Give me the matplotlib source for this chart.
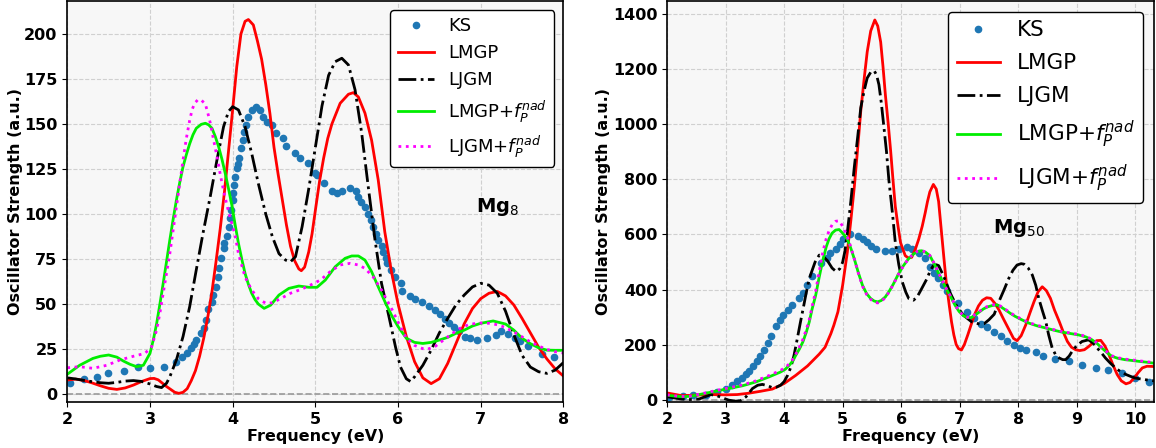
import matplotlib
matplotlib.use("Agg")
import matplotlib.pyplot as plt

# ---------------- Mg8 (left panel) ----------------
mg8_ks_x = [2.03, 2.2, 2.36, 2.49, 2.69, 2.85, 3.0, 3.17, 3.31, 3.39, 3.45, 3.5, 3.53, 3.56,
            3.62, 3.65, 3.68, 3.7, 3.75, 3.76, 3.8, 3.82, 3.84, 3.86, 3.89, 3.9, 3.93, 3.95,
            3.97, 3.98, 4.0, 4.01, 4.02, 4.03, 4.05, 4.07, 4.08, 4.1, 4.12, 4.14, 4.16, 4.19,
            4.23, 4.28, 4.33, 4.37, 4.42, 4.47, 4.52, 4.61, 4.65, 4.75, 4.81, 4.91, 5.0, 5.02,
            5.1, 5.2, 5.26, 5.32, 5.42, 5.49, 5.52, 5.55, 5.6, 5.64, 5.67, 5.7, 5.73, 5.76,
            5.8, 5.82, 5.85, 5.87, 5.91, 5.96, 6.03, 6.05, 6.14, 6.2, 6.29, 6.38, 6.45, 6.51,
            6.57, 6.62, 6.68, 6.74, 6.81, 6.87, 6.95, 7.08, 7.19, 7.24, 7.33, 7.41, 7.47, 7.57,
            7.74, 7.89]
mg8_ks_y = [5.9, 8.3, 9.3, 11.5, 13, 15.2, 14.6, 15.2, 18, 20.7, 23, 25.4, 28, 30,
            33.7, 36.5, 41, 47, 51.3, 55, 59.6, 65, 70, 75.4, 81, 83.7, 88, 93,
            97.6, 102, 108, 111.5, 116, 120.7, 125.4, 128, 131, 136.5, 141, 145.7, 149.4, 154,
            157.8, 159.6, 157.8, 154, 151.3, 149.4, 145.2, 142, 138, 134, 131, 128.5, 122.6, 121.7,
            117.4, 113, 111.9, 113, 114.3, 113, 109.6, 106.9, 104, 99.8, 96.7, 93, 89, 85.6,
            82.2, 79, 75.7, 72.6, 68.9, 65.2, 61.5, 57.2, 54.6, 53, 51.3, 49, 46.5, 44.4,
            41.5, 39.3, 37.4, 34.8, 31.8, 31, 30, 31.3, 33, 34.8, 33.2, 31, 29.3, 26.5,
            22.5, 20.8]

mg8_lmgp_x = [2.0, 2.1, 2.2, 2.3, 2.4, 2.5, 2.6, 2.7, 2.8, 2.9, 3.0, 3.05, 3.1, 3.2, 3.3, 3.35,
              3.4, 3.45, 3.5, 3.55, 3.6, 3.65, 3.7, 3.75, 3.8, 3.85, 3.9, 3.95, 4.0, 4.05, 4.1,
              4.15, 4.19, 4.25, 4.3, 4.35, 4.4, 4.45, 4.5, 4.55, 4.6, 4.65, 4.7, 4.75, 4.8, 4.83,
              4.87, 4.92, 4.96, 5.0, 5.05, 5.1, 5.15, 5.2, 5.3, 5.4, 5.46, 5.52, 5.6, 5.68, 5.76,
              5.84, 5.92, 6.0, 6.1, 6.2, 6.3, 6.4, 6.5, 6.6, 6.7, 6.8, 6.9, 7.0, 7.1, 7.2, 7.3,
              7.4, 7.5, 7.6, 7.7, 7.8, 7.9, 8.0]
mg8_lmgp_y = [7.8, 8.3, 7.6, 6.2, 4.6, 3.2, 2.6, 3.4, 5.0, 7.0, 8.6, 8.7, 7.9, 4.2, 1.0, 0.4,
              1.0, 3.0, 7.5, 13, 21, 31, 43, 57, 74, 92, 112, 135, 158, 182, 200,
              207, 208, 205, 196, 186, 172, 156, 137, 122, 108, 94, 82, 74, 69.5, 68.5,
              70.5, 79, 89, 102, 118, 131, 142, 150, 161.5, 166.5, 167.4, 165, 156, 141, 119,
              90, 68, 50, 32, 18, 9, 5.8, 8.5, 17, 28, 39, 47.5, 53, 56, 57, 54.5,
              49.5, 42, 34, 26, 19.5, 14, 10]

mg8_ljgm_x = [2.0, 2.1, 2.2, 2.3, 2.4, 2.5, 2.6, 2.7, 2.8, 2.9, 3.0, 3.08, 3.14, 3.2, 3.24, 3.32,
              3.4, 3.48, 3.56, 3.64, 3.73, 3.81, 3.89, 3.95, 4.0, 4.07, 4.15, 4.23, 4.31, 4.4,
              4.48, 4.56, 4.64, 4.7, 4.76, 4.84, 4.92, 5.0, 5.08, 5.16, 5.24, 5.32, 5.4, 5.48,
              5.56, 5.64, 5.72, 5.8, 5.89, 5.97, 6.03, 6.1, 6.15, 6.2, 6.3, 6.4, 6.5, 6.6, 6.7,
              6.8, 6.9, 7.0, 7.1, 7.2, 7.3, 7.4, 7.5, 7.6, 7.7, 7.8, 7.9, 8.0]
mg8_ljgm_y = [9.0, 8.4, 7.6, 6.9, 6.3, 6.0, 6.5, 7.2, 7.5, 7.0, 5.6, 4.2, 3.6, 6.0, 9.6, 19,
              32, 48.5, 69, 89, 110, 130, 148.5, 157, 159.6, 157.8, 148.5, 133.7, 117, 100,
              87.4, 78, 74.4, 73.5, 76.3, 93, 114, 137, 160, 177, 184.6, 186.5, 182.8, 169,
              145, 115, 86, 61.5, 43, 26, 15, 8.5, 7.0, 9.6, 16, 24.4, 34, 42, 49.5,
              55, 59.5, 61.5, 60.5, 56, 46, 33, 21.5, 15, 12.4, 11.5, 13.3, 17.5]

mg8_lmgp_f_x = [2.0, 2.15, 2.31, 2.4, 2.5, 2.6, 2.68, 2.76, 2.84, 2.92, 3.0, 3.04, 3.08, 3.12,
                3.16, 3.2, 3.24, 3.28, 3.32, 3.36, 3.4, 3.44, 3.48, 3.52, 3.56, 3.62, 3.67, 3.71,
                3.75, 3.79, 3.83, 3.87, 3.91, 3.95, 3.99, 4.03, 4.07, 4.11, 4.15, 4.19, 4.23, 4.27,
                4.31, 4.38, 4.46, 4.56, 4.68, 4.8, 4.92, 5.02, 5.12, 5.24, 5.36, 5.44, 5.52, 5.6,
                5.68, 5.76, 5.85, 5.93, 6.0, 6.1, 6.2, 6.3, 6.4, 6.5, 6.6, 6.7, 6.8, 6.9, 7.0,
                7.15, 7.3, 7.4, 7.5, 7.6, 7.7, 7.8, 7.9, 8.0]
mg8_lmgp_f_y = [11, 16, 19.8, 21, 21.7, 20.5, 18.3, 16.5, 15.2, 16, 22.6, 30, 39, 50,
                61.5, 73.5, 85.6, 97, 107.8, 117.5, 126.3, 133, 139, 144, 147.6, 149.8, 150.4, 149.5,
                147.6, 143, 137.4, 130.5, 122.6, 114, 105, 94, 83.7, 75, 67, 61, 56, 52.5,
                50, 47.6, 49.4, 55, 58.7, 60, 59.3, 59.3, 63.3, 70.7, 75.4, 76.7, 76.7, 74.4,
                68, 59.6, 50.4, 43, 37.5, 31, 28.7, 28.1, 28.7, 30, 31.5, 33.7, 35.5, 37.8, 39.3,
                40.6, 38.9, 35.5, 31, 28, 25.7, 24.4, 24.3, 24.3]

mg8_ljgm_f_x = [2.0, 2.15, 2.31, 2.48, 2.64, 2.8, 2.94, 3.02, 3.08, 3.12, 3.16, 3.2, 3.24, 3.28,
                3.32, 3.36, 3.4, 3.44, 3.48, 3.51, 3.54, 3.58, 3.62, 3.67, 3.7, 3.73, 3.77, 3.81,
                3.85, 3.89, 3.93, 3.97, 4.03, 4.07, 4.15, 4.23, 4.31, 4.4, 4.48, 4.58, 4.7, 4.82,
                4.94, 5.06, 5.18, 5.3, 5.42, 5.52, 5.6, 5.7, 5.8, 5.93, 6.0, 6.1, 6.2, 6.3, 6.35,
                6.45, 6.55, 6.65, 6.75, 6.85, 6.97, 7.1, 7.2, 7.3, 7.4, 7.5, 7.6, 7.7, 7.8, 7.9, 8.0]
mg8_ljgm_f_y = [14.6, 15.2, 14.3, 16, 19, 21, 22.6, 26.3, 35.5, 45, 56, 67, 78, 91,
                104, 117, 130, 142, 152, 158, 161.5, 163.5, 163.3, 161, 156, 150.4, 141, 132,
                122, 113, 105, 98, 88, 78, 65, 57.8, 53, 50.4, 50.7, 53, 56, 58,
                60.5, 63.3, 68, 71.7, 72.6, 71.7, 69.8, 65, 57.8, 46.7, 40, 31, 27, 25.2, 24.8,
                26.5, 30, 33.5, 36.5, 38.5, 39.5, 39.3, 38.5, 37, 34.5, 31.8, 29, 26.7, 24.8, 23.5, 22.8]

# ---------------- Mg50 (right panel) ----------------
mg50_ks_x = [2.04, 2.27, 2.45, 2.66, 2.85, 3.0, 3.11, 3.2, 3.28, 3.35, 3.4, 3.47, 3.53, 3.59,
             3.66, 3.72, 3.78, 3.87, 3.93, 3.99, 4.06, 4.14, 4.25, 4.32, 4.4, 4.48, 4.63, 4.73,
             4.79, 4.88, 4.96, 5.0, 5.13, 5.26, 5.35, 5.41, 5.49, 5.57, 5.72, 5.85, 5.97, 6.1,
             6.19, 6.31, 6.41, 6.5, 6.56, 6.63, 6.72, 6.78, 6.97, 7.12, 7.25, 7.37, 7.47, 7.59,
             7.7, 7.81, 7.92, 8.03, 8.14, 8.31, 8.43, 8.62, 8.86, 9.09, 9.33, 9.53, 9.77, 10.0,
             10.24]
mg50_ks_y = [10, 13, 16, 18, 28, 40, 54, 67, 79, 93, 103, 122, 139, 159,
             179, 206, 231, 266, 288, 306, 324, 345, 370, 389, 415, 450, 495, 515,
             531, 549, 567, 585, 603, 595, 585, 573, 558, 549, 540, 540, 549, 555,
             547, 531, 513, 483, 459, 440, 416, 395, 350, 320, 296, 276, 262, 244,
             230, 214, 199, 187, 181, 174, 159, 148, 139, 127, 116, 108, 98, 77,
             64]

mg50_lmgp_x = [2.0, 2.25, 2.5, 2.75, 3.0, 3.2, 3.4, 3.6, 3.8, 4.0, 4.2, 4.4, 4.6, 4.7, 4.8,
               4.85, 4.92, 5.0, 5.08, 5.14, 5.2, 5.26, 5.31, 5.37, 5.42, 5.48, 5.55, 5.6, 5.65,
               5.69, 5.73, 5.78, 5.82, 5.86, 5.9, 5.95, 5.99, 6.07, 6.12, 6.18, 6.24, 6.3, 6.36,
               6.41, 6.45, 6.49, 6.55, 6.6, 6.64, 6.69, 6.73, 6.77, 6.82, 6.86, 6.9, 6.94, 6.98,
               7.03, 7.08, 7.14, 7.2, 7.25, 7.32, 7.39, 7.46, 7.53, 7.6, 7.67, 7.75, 7.84, 7.92,
               7.98, 8.05, 8.13, 8.2, 8.27, 8.34, 8.41, 8.48, 8.55, 8.62, 8.7, 8.77, 8.84, 8.91,
               8.98, 9.05, 9.13, 9.2, 9.27, 9.34, 9.41, 9.48, 9.55, 9.62, 9.69, 9.76, 9.84, 9.91,
               9.98, 10.05, 10.12, 10.2, 10.32]
mg50_lmgp_y = [24, 14, 16, 18, 17, 18, 23, 30, 38, 58, 88, 122, 165, 190, 240,
               270, 319, 415, 535, 650, 774, 920, 1049, 1170, 1264, 1340, 1380, 1358, 1300,
               1210, 1109, 1000, 905, 800, 702, 625, 570, 523, 515, 517, 545, 583, 630,
               678, 720, 755, 782, 765, 720, 606, 515, 427, 345, 283, 235, 200, 185,
               180, 200, 236, 275, 307, 340, 361, 370, 368, 350, 326, 292, 255, 222,
               214, 232, 272, 315, 356, 392, 410, 396, 368, 325, 284, 245, 211, 190,
               181, 178, 181, 192, 205, 214, 215, 195, 163, 125, 91, 68, 57, 62,
               78, 98, 115, 121, 120]

mg50_ljgm_x = [2.0, 2.15, 2.27, 2.4, 2.55, 2.65, 2.75, 2.85, 2.95, 3.05, 3.15, 3.25, 3.35, 3.46,
               3.55, 3.63, 3.72, 3.8, 3.87, 3.94, 4.0, 4.06, 4.12, 4.17, 4.22, 4.28, 4.33, 4.37,
               4.41, 4.45, 4.53, 4.6, 4.66, 4.74, 4.82, 4.89, 4.95, 5.0, 5.04, 5.08, 5.14, 5.2,
               5.26, 5.31, 5.37, 5.42, 5.48, 5.54, 5.58, 5.62, 5.66, 5.7, 5.75, 5.79, 5.85, 5.9,
               5.96, 6.02, 6.08, 6.13, 6.21, 6.27, 6.32, 6.38, 6.44, 6.5, 6.55, 6.6, 6.64, 6.72,
               6.78, 6.83, 6.94, 7.06, 7.2, 7.34, 7.42, 7.5, 7.59, 7.67, 7.76, 7.84, 7.91, 7.98,
               8.05, 8.1, 8.17, 8.24, 8.3, 8.35, 8.41, 8.47, 8.52, 8.58, 8.64, 8.7, 8.76, 8.81,
               8.87, 8.92, 9.0, 9.09, 9.2, 9.28, 9.35, 9.42, 9.49, 9.57, 9.66, 9.75, 9.84, 9.92,
               10.0, 10.17, 10.32]
mg50_ljgm_y = [10, 5, 1, 0, 2, 10, 18, 14, 6, -2, -6, -5, 10, 40,
               52, 55, 50, 43, 45, 52, 65, 88, 120, 161, 215, 282, 335, 379,
               420, 452, 500, 525, 522, 505, 478, 465, 475, 499, 540, 606, 720, 846,
               960, 1061, 1125, 1169, 1190, 1195, 1180, 1145, 1080, 1001, 900, 798, 680, 571,
               490, 427, 390, 367, 361, 372, 391, 415, 439, 470, 487, 490, 487, 451,
               420, 391, 343, 307, 283, 274, 276, 290, 310, 356, 400, 441, 470, 489,
               494, 492, 478, 453, 415, 368, 325, 284, 235, 187, 162, 151, 145, 145,
               158, 175, 196, 211, 217, 205, 187, 170, 151, 133, 115, 101, 91, 84,
               78, 72, 68]

mg50_lmgp_f_x = [2.0, 2.15, 2.27, 2.4, 2.55, 2.78, 3.0, 3.29, 3.52, 3.74, 3.94, 4.02, 4.09, 4.15,
                 4.2, 4.26, 4.32, 4.38, 4.43, 4.48, 4.54, 4.6, 4.66, 4.72, 4.77, 4.82, 4.88, 4.94,
                 5.0, 5.08, 5.14, 5.2, 5.27, 5.34, 5.41, 5.48, 5.54, 5.6, 5.66, 5.73, 5.8, 5.87,
                 5.95, 6.04, 6.12, 6.21, 6.28, 6.35, 6.42, 6.49, 6.56, 6.63, 6.7, 6.77, 6.85, 6.92,
                 6.99, 7.06, 7.13, 7.2, 7.27, 7.34, 7.41, 7.48, 7.56, 7.64, 7.71, 7.78, 7.86, 7.95,
                 8.06, 8.18, 8.32, 8.47, 8.61, 8.75, 8.89, 9.03, 9.15, 9.26, 9.35, 9.43, 9.52, 9.6,
                 9.7, 9.82, 9.94, 10.05, 10.18, 10.32]
mg50_lmgp_f_y = [16, 12, 10, 12, 18, 28, 37.5, 50, 64, 82, 100, 110, 125, 140,
                 161, 183, 209, 245, 282, 330, 379, 445, 505, 555, 585, 605, 616, 618,
                 605, 583, 550, 511, 460, 415, 385, 367, 358, 355, 360, 373, 395, 421,
                 455, 487, 510, 529, 538, 541, 535, 523, 495, 463, 432, 403, 372, 343,
                 320, 305, 298, 298, 308, 319, 330, 337, 342, 344, 336, 326, 314, 302,
                 290, 278, 268, 260, 252, 245, 240, 235, 228, 217, 203, 187, 170, 157,
                 150, 145, 142, 139, 136, 132]

mg50_ljgm_f_x = mg50_lmgp_f_x
mg50_ljgm_f_y = [17, 13, 11, 13, 19, 30, 40, 53, 68, 87, 106, 116, 130, 146,
                 165, 190, 218, 255, 290, 340, 395, 465, 535, 585, 615, 635, 648, 650,
                 630, 592, 555, 511, 458, 412, 382, 364, 354, 351, 357, 370, 393, 420,
                 454, 486, 510, 530, 539, 542, 536, 524, 497, 465, 433, 404, 373, 344,
                 321, 306, 299, 300, 310, 321, 332, 339, 344, 346, 338, 328, 316, 304,
                 292, 280, 270, 262, 254, 247, 242, 237, 230, 219, 205, 189, 172, 159,
                 152, 147, 144, 141, 138, 134]

xticks_mg8 = [2, 3, 4, 5, 6, 7, 8]
yticks_mg8 = [0, 25, 50, 75, 100, 125, 150, 175, 200]
xticks_mg50 = [2, 3, 4, 5, 6, 7, 8, 9, 10]
yticks_mg50 = [0, 200, 400, 600, 800, 1000, 1200, 1400]

labels = ['KS', 'LMGP', 'LJGM', r'LMGP+$f_P^{nad}$', r'LJGM+$f_P^{nad}$']

fig = plt.figure(figsize=(11.56, 4.48), dpi=100)
ax1 = fig.add_axes([0.0582, 0.1027, 0.4292, 0.8951])
ax2 = fig.add_axes([0.577, 0.1027, 0.4213, 0.8951])


def draw(ax, ks, lmgp, ljgm, lmgp_f, ljgm_f, legsize, legspace, xt, yt):
    ax.set_facecolor('#f7f7f7')
    ax.grid(True, linestyle='--', color='#d0d0d0', linewidth=0.8)
    ax.set_axisbelow(True)
    ax.axhline(0, color='#999999', linestyle='--', linewidth=1.2)
    ax.plot(ks[0], ks[1], 'o', color='#1f77b4', markersize=4.5, label=labels[0])
    ax.plot(lmgp[0], lmgp[1], '-', color='red', linewidth=2, label=labels[1])
    ax.plot(ljgm[0], ljgm[1], '-.', color='black', linewidth=2, label=labels[2])
    ax.plot(lmgp_f[0], lmgp_f[1], '-', color='#00ee00', linewidth=2, label=labels[3])
    ax.plot(ljgm_f[0], ljgm_f[1], ':', color='magenta', linewidth=2, label=labels[4])
    leg = ax.legend(loc='upper right', fontsize=legsize, framealpha=1, labelspacing=legspace)
    leg.get_frame().set_edgecolor('black')
    ax.set_xlabel('Frequency (eV)', fontsize=11.5, fontweight='bold', labelpad=2)
    ax.set_ylabel('Oscillator Strength (a.u.)', fontsize=11.5, fontweight='bold', labelpad=1)
    ax.set_xticks(xt)
    ax.set_xticklabels([str(t) for t in xt], fontsize=11.5, fontweight='bold')
    ax.set_yticks(yt)
    ax.set_yticklabels([str(t) for t in yt], fontsize=11.5, fontweight='bold')
    for s in ax.spines.values():
        s.set_linewidth(1.2)


draw(ax1, (mg8_ks_x, mg8_ks_y), (mg8_lmgp_x, mg8_lmgp_y), (mg8_ljgm_x, mg8_ljgm_y),
     (mg8_lmgp_f_x, mg8_lmgp_f_y), (mg8_ljgm_f_x, mg8_ljgm_f_y), 13, 0.5,
     xticks_mg8, yticks_mg8)
draw(ax2, (mg50_ks_x, mg50_ks_y), (mg50_lmgp_x, mg50_lmgp_y), (mg50_ljgm_x, mg50_ljgm_y),
     (mg50_lmgp_f_x, mg50_lmgp_f_y), (mg50_ljgm_f_x, mg50_ljgm_f_y), 15.5, 0.6,
     xticks_mg50, yticks_mg50)

ax1.set_xlim(2, 8)
ax1.set_ylim(-4.4, 218.3)
ax2.set_xlim(2, 10.32)
ax2.set_ylim(-9, 1449)

ax1.text(6.94, 104, r'$\mathbf{Mg}_{8}$', fontsize=14, va='center', ha='left')
ax2.text(7.57, 623, r'$\mathbf{Mg}_{50}$', fontsize=14, va='center', ha='left')

fig.savefig('out.png', dpi=100)
